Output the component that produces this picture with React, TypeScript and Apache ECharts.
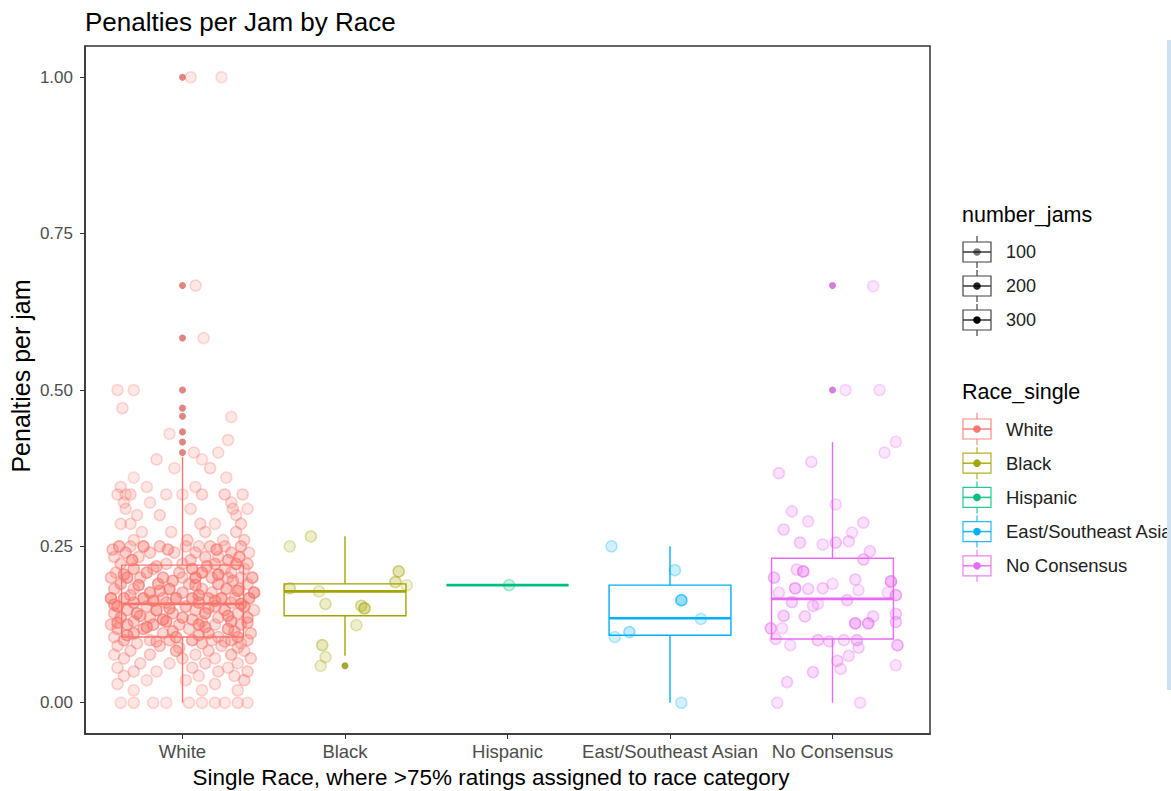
import React, { useEffect, useRef } from "react";
import * as echarts from "echarts";

const CATEGORIES = ["White", "Black", "Hispanic", "East/Southeast Asian", "No Consensus"];
const RACE_LEGEND = ["White", "Black", "Hispanic", "East/Southeast Asian", "No Consensus"];
const COLORS = ["#F8766D", "#A3A500", "#00BF7D", "#00B0F6", "#E76BF3"];
const Y_TICKS = [0, 0.25, 0.5, 0.75, 1];
const X_TICKS = [1, 2, 3, 4, 5];
const JAM_LEGEND = [100, 200, 300];
const TITLE = "Penalties per Jam by Race";
const X_TITLE = "Single Race, where >75% ratings assigned to race category";
const Y_TITLE = "Penalties per jam";

// [lowWhisker, q1, median, q3, highWhisker]
const BOX_WHITE = [0, 0.105, 0.158, 0.22, 0.393];
const BOX_BLACK = [0.075, 0.139, 0.178, 0.19, 0.266];
const BOX_HISPANIC = [0.188, 0.188, 0.188, 0.188, 0.188];
const BOX_ASIAN = [0, 0.108, 0.135, 0.188, 0.25];
const BOX_NOCONS = [0, 0.102, 0.166, 0.231, 0.417];

const OUT_WHITE = [1.0, 0.667, 0.583, 0.5, 0.471, 0.458, 0.433, 0.417, 0.4];
const OUT_BLACK = [0.059];
const OUT_HISPANIC: number[] = [];
const OUT_ASIAN: number[] = [];
const OUT_NOCONS = [0.667, 0.5];

// jittered points: [jitter offset (category units), penalties per jam, number_jams]
const PTS_WHITE = [
  [0.05, 1.0, 20], [0.24, 1.0, 15],
  [0.08, 0.667, 25], [0.13, 0.583, 20],
  [-0.4, 0.5, 25], [-0.3, 0.5, 20],
  [-0.37, 0.471, 30], [0.3, 0.457, 25], [-0.08, 0.43, 20], [0.28, 0.42, 30],
  [0.07, 0.4, 30], [0.22, 0.4, 25], [-0.16, 0.389, 35], [0.12, 0.389, 20],
  [-0.05, 0.375, 25], [0.17, 0.375, 40], [0.27, 0.36, 30], [-0.3, 0.36, 20],
  [-0.38, 0.345, 35], [-0.22, 0.345, 25], [0.08, 0.345, 30],
  [-0.4, 0.333, 40], [-0.35, 0.333, 30], [-0.32, 0.333, 45], [0.12, 0.333, 50], [0.26, 0.333, 60], [0.37, 0.333, 45], [-0.1, 0.333, 30], [0.0, 0.333, 25],
  [-0.36, 0.32, 35], [0.3, 0.32, 40], [-0.2, 0.32, 30],
  [-0.35, 0.31, 40], [0.05, 0.31, 35], [0.31, 0.31, 50], [0.4, 0.31, 30],
  [-0.14, 0.3, 45], [0.33, 0.3, 40], [-0.28, 0.3, 35],
  [-0.38, 0.286, 40], [-0.32, 0.286, 35], [0.11, 0.286, 50], [0.36, 0.286, 60], [0.2, 0.286, 30],
  [-0.07, 0.273, 40], [0.14, 0.273, 45], [0.33, 0.273, 55], [-0.25, 0.273, 35],
  [-0.3, 0.26, 45], [0.03, 0.26, 70], [0.25, 0.26, 40], [0.38, 0.26, 60],
  [-0.39, 0.25, 140], [-0.24, 0.25, 160], [-0.14, 0.25, 90], [0.02, 0.25, 60], [0.17, 0.25, 80], [0.26, 0.25, 70], [0.36, 0.25, 100], [-0.32, 0.25, 60], [0.1, 0.25, 50],
  [-0.35, 0.24, 110], [-0.2, 0.24, 80], [-0.05, 0.24, 60], [0.08, 0.24, 70], [0.3, 0.24, 90], [0.41, 0.24, 50],
  [-0.42, 0.233, 60], [-0.27, 0.233, 70], [0.14, 0.233, 90], [0.22, 0.233, 60], [0.35, 0.233, 140],
  [-0.38, 0.222, 80], [-0.1, 0.222, 60], [0.0, 0.222, 70], [0.2, 0.222, 110], [0.33, 0.222, 170], [0.4, 0.222, 90],
  [-0.3, 0.214, 130], [-0.18, 0.214, 70], [0.06, 0.214, 160], [0.26, 0.214, 80], [0.38, 0.214, 60],
  [-0.41, 0.208, 70], [-0.22, 0.208, 150], [-0.02, 0.208, 90], [0.12, 0.208, 180], [0.3, 0.208, 60],
  [-0.44, 0.2, 90], [-0.34, 0.2, 170], [-0.26, 0.2, 80], [-0.12, 0.2, 140], [0.0, 0.2, 70], [0.08, 0.2, 190], [0.18, 0.2, 100], [0.28, 0.2, 80], [0.36, 0.2, 60], [0.43, 0.2, 150],
  [-0.38, 0.19, 120], [-0.15, 0.19, 160], [0.04, 0.19, 80], [0.22, 0.19, 140], [0.4, 0.19, 70],
  [-0.42, 0.182, 100], [-0.3, 0.182, 60], [-0.08, 0.182, 180], [0.12, 0.182, 90], [0.27, 0.182, 150], [0.35, 0.182, 70],
  [-0.2, 0.176, 160], [0.0, 0.176, 110], [0.18, 0.176, 70], [0.44, 0.176, 200],
  [-0.44, 0.167, 200], [-0.36, 0.167, 150], [-0.24, 0.167, 180], [-0.12, 0.167, 90], [-0.04, 0.167, 210], [0.06, 0.167, 160], [0.16, 0.167, 120], [0.24, 0.167, 190], [0.32, 0.167, 90], [0.41, 0.167, 170],
  [-0.3, 0.16, 140], [-0.1, 0.16, 100], [0.1, 0.16, 150], [0.3, 0.16, 80],
  [-0.4, 0.154, 170], [-0.22, 0.154, 80], [0.02, 0.154, 130], [0.2, 0.154, 110], [0.38, 0.154, 160],
  [-0.34, 0.148, 120], [-0.16, 0.148, 190], [0.08, 0.148, 90], [0.26, 0.148, 140], [0.44, 0.148, 70],
  [-0.42, 0.143, 90], [-0.28, 0.143, 160], [-0.06, 0.143, 110], [0.14, 0.143, 170], [0.34, 0.143, 90],
  [-0.38, 0.136, 140], [-0.2, 0.136, 90], [0.0, 0.136, 150], [0.22, 0.136, 80], [0.4, 0.136, 130],
  [-0.3, 0.13, 100], [-0.1, 0.13, 170], [0.12, 0.13, 70], [0.3, 0.13, 150],
  [-0.44, 0.125, 80], [-0.34, 0.125, 120], [-0.18, 0.125, 150], [-0.02, 0.125, 90], [0.1, 0.125, 170], [0.2, 0.125, 60], [0.36, 0.125, 110],
  [-0.4, 0.118, 90], [-0.24, 0.118, 130], [0.04, 0.118, 70], [0.28, 0.118, 160],
  [-0.3, 0.111, 140], [-0.12, 0.111, 80], [0.16, 0.111, 120], [0.42, 0.111, 90],
  [-0.42, 0.105, 60], [-0.04, 0.105, 150], [0.22, 0.105, 70], [0.34, 0.105, 130],
  [-0.36, 0.1, 110], [-0.2, 0.1, 70], [-0.08, 0.1, 90], [0.06, 0.1, 140], [0.18, 0.1, 60], [0.3, 0.1, 100], [0.4, 0.1, 80],
  [-0.28, 0.095, 60], [0.12, 0.095, 90], [0.36, 0.095, 50],
  [-0.4, 0.091, 50], [-0.14, 0.091, 80], [0.24, 0.091, 60],
  [-0.32, 0.083, 60], [-0.04, 0.083, 120], [0.16, 0.083, 70], [0.38, 0.083, 50],
  [-0.42, 0.077, 40], [-0.2, 0.077, 70], [0.08, 0.077, 50], [0.3, 0.077, 90],
  [-0.36, 0.071, 50], [0.0, 0.071, 60], [0.2, 0.071, 40], [0.42, 0.071, 70],
  [-0.26, 0.063, 50], [-0.08, 0.063, 40], [0.14, 0.063, 60], [0.34, 0.063, 45],
  [-0.4, 0.056, 40], [0.06, 0.056, 55], [0.28, 0.056, 35],
  [-0.3, 0.05, 45], [-0.16, 0.05, 35], [0.22, 0.05, 50], [0.4, 0.05, 60],
  [-0.36, 0.043, 40], [0.1, 0.043, 35], [0.32, 0.043, 45],
  [-0.22, 0.036, 30], [0.02, 0.036, 40], [0.38, 0.036, 70],
  [-0.4, 0.03, 35], [0.2, 0.03, 40],
  [-0.3, 0.02, 30], [0.12, 0.02, 35], [0.34, 0.02, 40],
  [-0.38, 0.0, 20], [-0.3, 0.0, 30], [-0.18, 0.0, 25], [-0.1, 0.0, 20], [0.04, 0.0, 30], [0.12, 0.0, 25], [0.2, 0.0, 30], [0.26, 0.0, 20], [0.34, 0.0, 35], [0.4, 0.0, 25],
  [-0.43, 0.245, 90], [-0.09, 0.245, 120], [0.21, 0.245, 150], [-0.31, 0.228, 170], [0.05, 0.228, 90],
  [0.28, 0.228, 130], [-0.16, 0.218, 110], [0.15, 0.218, 140], [-0.36, 0.205, 150], [0.22, 0.205, 200],
  [-0.06, 0.195, 130], [0.31, 0.195, 110], [-0.27, 0.188, 180], [0.08, 0.188, 150], [-0.14, 0.179, 120],
  [0.34, 0.179, 160], [-0.32, 0.172, 110], [0.1, 0.172, 170], [-0.18, 0.163, 200], [0.2, 0.163, 130],
  [-0.42, 0.157, 140], [0.36, 0.158, 180], [-0.08, 0.151, 160], [0.16, 0.151, 110], [-0.26, 0.139, 130],
  [0.28, 0.139, 170], [-0.12, 0.133, 190], [0.06, 0.133, 120], [-0.4, 0.128, 150], [0.4, 0.128, 110],
  [-0.22, 0.121, 170], [0.14, 0.121, 140], [-0.06, 0.114, 130], [0.32, 0.114, 100], [-0.34, 0.108, 160],
  [0.1, 0.108, 120], [-0.16, 0.098, 90], [0.26, 0.098, 80], [-0.02, 0.088, 70], [0.34, 0.088, 60],
];

const PTS_BLACK = [
  [-0.34, 0.25, 30], [-0.21, 0.266, 40], [0.33, 0.21, 90], [0.31, 0.193, 70],
  [-0.34, 0.183, 60], [-0.16, 0.178, 25], [-0.12, 0.158, 40], [0.1, 0.155, 60],
  [0.12, 0.151, 120], [0.07, 0.124, 30], [-0.14, 0.092, 70], [-0.12, 0.073, 30],
  [-0.15, 0.059, 25], [0.38, 0.188, 20],
];

const PTS_HISPANIC = [[0.01, 0.188, 40]];

const PTS_ASIAN = [
  [-0.36, 0.25, 30], [0.03, 0.212, 40], [0.07, 0.164, 150], [0.19, 0.134, 25],
  [-0.25, 0.113, 60], [-0.34, 0.105, 25], [0.07, 0.0, 25],
];

const PTS_NOCONS = [
  [0.25, 0.666, 20], [0.08, 0.5, 20], [0.29, 0.5, 20], [0.39, 0.417, 30], [0.32, 0.4, 25],
  [-0.13, 0.385, 35], [-0.33, 0.367, 40], [0.02, 0.317, 25], [-0.25, 0.306, 40], [-0.15, 0.29, 35],
  [0.19, 0.288, 45], [-0.3, 0.277, 50], [0.12, 0.272, 25], [0.1, 0.258, 40], [-0.2, 0.256, 60],
  [-0.06, 0.253, 35], [0.02, 0.256, 70], [0.23, 0.242, 50], [0.19, 0.229, 70], [-0.22, 0.213, 40],
  [-0.18, 0.21, 150], [-0.36, 0.2, 90], [0.14, 0.197, 50], [0.36, 0.194, 160], [-0.23, 0.183, 120],
  [-0.15, 0.182, 50], [-0.06, 0.183, 50], [0.0, 0.19, 25], [0.16, 0.18, 30], [0.39, 0.172, 110],
  [0.34, 0.176, 30], [-0.33, 0.176, 40], [0.09, 0.164, 60], [-0.25, 0.161, 70], [-0.12, 0.155, 50],
  [-0.09, 0.158, 30], [-0.3, 0.139, 80], [-0.17, 0.138, 60], [0.25, 0.138, 50], [0.39, 0.142, 60],
  [0.39, 0.129, 70], [0.14, 0.127, 150], [0.22, 0.127, 140], [-0.38, 0.119, 100], [-0.31, 0.119, 30],
  [-0.35, 0.102, 50], [-0.26, 0.092, 30], [-0.09, 0.1, 70], [-0.02, 0.098, 50], [0.07, 0.1, 40],
  [0.15, 0.1, 80], [0.16, 0.088, 40], [0.4, 0.092, 110], [0.03, 0.067, 60], [0.1, 0.075, 40],
  [0.05, 0.054, 30], [0.39, 0.06, 30], [-0.12, 0.049, 60], [-0.28, 0.033, 50], [-0.34, 0.0, 30],
  [0.17, 0.0, 25],
];

const BOXES = [BOX_WHITE, BOX_BLACK, BOX_HISPANIC, BOX_ASIAN, BOX_NOCONS];
const OUTLIERS = [OUT_WHITE, OUT_BLACK, OUT_HISPANIC, OUT_ASIAN, OUT_NOCONS];
const POINTS = [PTS_WHITE, PTS_BLACK, PTS_HISPANIC, PTS_ASIAN, PTS_NOCONS];

const FONT = "'Liberation Sans', Arial, sans-serif";

function hexRgb(hex: string) {
  const h = hex.replace("#", "");
  return [parseInt(h.slice(0, 2), 16), parseInt(h.slice(2, 4), 16), parseInt(h.slice(4, 6), 16)];
}
function rgba(hex: string, a: number) {
  const [r, g, b] = hexRgb(hex);
  return `rgba(${r},${g},${b},${a})`;
}
function darker(hex: string, f: number) {
  const [r, g, b] = hexRgb(hex);
  return `rgb(${Math.round(r * f)},${Math.round(g * f)},${Math.round(b * f)})`;
}
function alphaFor(n: number) {
  return 0.2 + 0.8 * Math.min(1, Math.max(0, n / 240));
}

export default function App() {
  const ref = useRef<HTMLDivElement>(null);
  useEffect(() => {
    if (!ref.current) return;
    const chart = echarts.init(ref.current, undefined, { renderer: "svg" });

    const boxData = BOXES.map((b, i) => [i + 1, b[0], b[1], b[2], b[3], b[4], i]);

    const jitterSeries = POINTS.map((pts, gi) => ({
      type: "scatter",
      z: 4,
      silent: true,
      symbol: "circle",
      symbolSize: 11,
      data: pts.map((p) => {
        const a = alphaFor(p[2]);
        return {
          value: [gi + 1 + p[0], p[1]],
          itemStyle: {
            color: rgba(COLORS[gi], Math.min(1, a * 0.75)),
            borderColor: rgba(COLORS[gi], Math.min(1, a * 1.2)),
            borderWidth: 1.5,
          },
        };
      }),
    }));

    const outlierSeries = OUTLIERS.map((outs, gi) => ({
      type: "scatter",
      z: 3,
      silent: true,
      symbol: "circle",
      symbolSize: 7,
      itemStyle: { color: darker(COLORS[gi], 0.87) },
      data: outs.map((v) => [gi + 1, v]),
    }));

    const graphic: any[] = [];
    const txt = (text: string, x: number, y: number, size: number, color: string, align = "left", rotation = 0) => ({
      type: "text",
      x,
      y,
      rotation,
      silent: true,
      style: {
        text,
        fill: color,
        font: `${size}px ${FONT}`,
        align,
        textAlign: align,
        verticalAlign: "middle",
        textVerticalAlign: "middle",
      },
    });
    const key = (cy: number, stroke: string, dot: string) => {
      const cx = 977;
      return [
        { type: "line", silent: true, shape: { x1: cx, y1: cy - 16, x2: cx, y2: cy + 16 }, style: { stroke, lineWidth: 1.2 } },
        { type: "rect", silent: true, shape: { x: 963, y: cy - 10, width: 28, height: 20 }, style: { fill: "#fff", stroke, lineWidth: 1.2 } },
        { type: "line", silent: true, shape: { x1: 963, y1: cy, x2: 991, y2: cy }, style: { stroke, lineWidth: 1.6 } },
        { type: "circle", silent: true, shape: { cx, cy, r: 3.8 }, style: { fill: dot } },
      ];
    };
    graphic.push(txt(TITLE, 85, 22, 26, "#000"));
    graphic.push(txt(X_TITLE, 491, 777, 22.5, "#000", "center"));
    graphic.push(txt(Y_TITLE, 21, 376, 25, "#000", "center", Math.PI / 2));
    graphic.push(txt("number_jams", 962, 215, 21.5, "#000"));
    JAM_LEGEND.forEach((n, i) => {
      const cy = 252 + i * 34;
      graphic.push(...key(cy, "#444", `rgba(0,0,0,${alphaFor(n)})`));
      graphic.push(txt(String(n), 1006, cy, 18, "#222"));
    });
    graphic.push(txt("Race_single", 962, 392, 21.5, "#000"));
    RACE_LEGEND.forEach((r, i) => {
      const cy = 429 + i * 34.2;
      graphic.push(...key(cy, rgba(COLORS[i], 0.85), COLORS[i]));
      graphic.push(txt(r, 1006, cy, 18.5, "#222"));
    });
    graphic.push({
      type: "rect",
      silent: true,
      z: 100,
      shape: { x: 1167, y: 40, width: 4, height: 650 },
      style: { fill: "#cfe0f1" },
    });

    const option: any = {
      animation: false,
      backgroundColor: "#fff",
      grid: {
        left: 85,
        top: 46,
        width: 845,
        height: 688,
        show: true,
        borderColor: "#333",
        borderWidth: 1.5,
        backgroundColor: "transparent",
      },
      xAxis: {
        type: "value",
        min: 0.4,
        max: 5.6,
        axisLine: { show: true, onZero: false, lineStyle: { color: "#333", width: 1.5 } },
        axisTick: { show: true, customValues: X_TICKS, length: 5, lineStyle: { color: "#333" } },
        axisLabel: {
          customValues: X_TICKS,
          formatter: (v: number) => CATEGORIES[Math.round(v) - 1] ?? "",
          fontSize: 18.5,
          color: "#4d4d4d",
          fontFamily: FONT,
          margin: 8,
        },
        splitLine: { show: false },
      },
      yAxis: {
        type: "value",
        min: -0.05,
        max: 1.05,
        axisLine: { show: true, onZero: false, lineStyle: { color: "#333", width: 1.5 } },
        axisTick: { show: true, customValues: Y_TICKS, length: 5, lineStyle: { color: "#333" } },
        axisLabel: {
          customValues: Y_TICKS,
          formatter: (v: number) => v.toFixed(2),
          fontSize: 17,
          color: "#4d4d4d",
          fontFamily: FONT,
          margin: 12,
        },
        splitLine: { show: false },
      },
      graphic,
      series: [
        {
          type: "custom",
          z: 2,
          silent: true,
          data: boxData,
          encode: { x: 0, y: [1, 2, 3, 4, 5] },
          renderItem: (params: any, api: any) => {
            const x = api.value(0);
            const lo = api.value(1);
            const q1 = api.value(2);
            const med = api.value(3);
            const q3 = api.value(4);
            const hi = api.value(5);
            const gi = api.value(6);
            const color = COLORS[gi];
            const pHi = api.coord([x, hi]);
            const pQ3 = api.coord([x, q3]);
            const pQ1 = api.coord([x, q1]);
            const pLo = api.coord([x, lo]);
            const left = api.coord([x - 0.375, q3]);
            const right = api.coord([x + 0.375, q1]);
            const mL = api.coord([x - 0.375, med]);
            const mR = api.coord([x + 0.375, med]);
            return {
              type: "group",
              children: [
                { type: "line", shape: { x1: pHi[0], y1: pHi[1], x2: pQ3[0], y2: pQ3[1] }, style: { stroke: color, lineWidth: 1.4 } },
                { type: "line", shape: { x1: pQ1[0], y1: pQ1[1], x2: pLo[0], y2: pLo[1] }, style: { stroke: color, lineWidth: 1.4 } },
                {
                  type: "rect",
                  shape: { x: left[0], y: left[1], width: right[0] - left[0], height: right[1] - left[1] },
                  style: { fill: "#fff", stroke: color, lineWidth: 1.4 },
                },
                { type: "line", shape: { x1: mL[0], y1: mL[1], x2: mR[0], y2: mR[1] }, style: { stroke: color, lineWidth: 2.6 } },
              ],
            };
          },
        },
        ...outlierSeries,
        ...jitterSeries,
      ],
    };
    chart.setOption(option);
    return () => chart.dispose();
  }, []);
  return (
    <div
      ref={ref}
      style={{ position: "fixed", left: 0, top: 0, width: 1171, height: 791, background: "#fff" }}
    />
  );
}
